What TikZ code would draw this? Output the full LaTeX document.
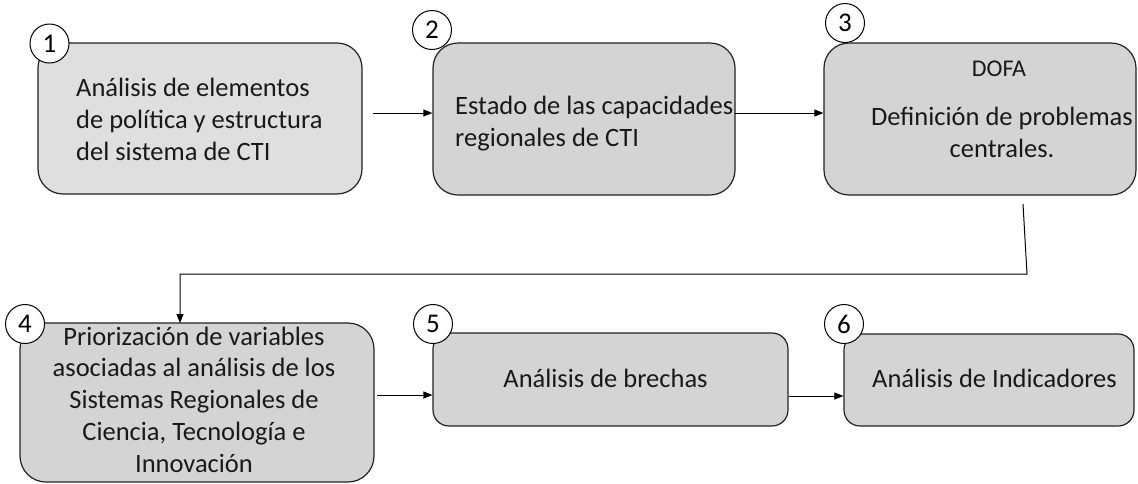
\documentclass[tikz,border=0pt]{standalone}
\usepackage{fontspec}
\setmainfont{Carlito}
\usetikzlibrary{arrows.meta}
\definecolor{boxa}{HTML}{DFDFDF}
\definecolor{boxb}{HTML}{D4D4D4}
\definecolor{edge}{HTML}{222222}
\tikzset{
  stagebox/.style={draw=edge, line width=1.2pt, fill=boxb, inner sep=0pt},
  numc/.style={circle, draw=black, line width=1pt, fill=white, minimum size=39pt, inner sep=0pt, font=\fontsize{27}{27}\selectfont},
  txt/.style={inner sep=0pt, font=\fontsize{26.5}{31.7}\selectfont, text=black!90},
  arr/.style={draw=black, line width=1pt, -{Triangle[length=9pt,width=7pt]}},
}
\begin{document}
\begin{tikzpicture}[x=1pt,y=-1pt]
\useasboundingbox (0,0) rectangle (1138,483);
% boxes
\node[stagebox, fill=boxa, rounded corners=25pt, minimum width=324pt, minimum height=151pt] (b1) at (200,118.5) {};
\node[stagebox, rounded corners=25pt, minimum width=302pt, minimum height=152pt] (b2) at (584,119) {};
\node[stagebox, rounded corners=25pt, minimum width=312pt, minimum height=152pt] (b3) at (980,119) {};
\node[stagebox, rounded corners=26pt, minimum width=354pt, minimum height=159pt] (b4) at (197,402.5) {};
\node[stagebox, rounded corners=16pt, minimum width=355pt, minimum height=93pt] (b5) at (610.5,379.5) {};
\node[stagebox, rounded corners=16pt, minimum width=290pt, minimum height=92pt] (b6) at (989,380) {};
% texts (base = baseline of last line)
\node[txt, anchor=base west, align=left] (t1) at (76,160) {Análisis de elementos\\de política y estructura\\del sistema de CTI};
\node[txt, anchor=base west, align=left] (t2) at (455,146) {Estado de las capacidades\\regionales de CTI};
\node[txt, anchor=base, font=\fontsize{24}{28}\selectfont] (t3a) at (999,76) {DOFA};
\node[txt, anchor=base, align=center] (t3b) at (1002,157) {Definición de problemas\\centrales.};
\node[txt, anchor=base, align=center] (t4) at (194,472) {Priorización de variables\\asociadas al análisis de los\\Sistemas Regionales de\\Ciencia, Tecnología e\\Innovación};
\node[txt, anchor=base] (t5) at (605.5,387) {Análisis de brechas};
\node[txt, anchor=base] (t6) at (994.5,387) {Análisis de Indicadores};
% number circles
\node[numc] (c1) at (49.5,43.5) {1};
\node[numc] (c2) at (432,30) {2};
\node[numc] (c3) at (845,23) {3};
\node[numc] (c4) at (25,324) {4};
\node[numc] (c5) at (433,324) {5};
\node[numc] (c6) at (844,324) {6};
% connectors
\coordinate (s12) at (373,113);
\draw[arr] (s12) -- (b2.west |- s12);
\coordinate (s23) at (735,113);
\draw[arr] (s23) -- (b3.west |- s23);
\coordinate (s34) at (1023,204);
\coordinate (k34) at (1027,274);
\coordinate (e34) at (180,323);
\draw[arr] (s34) -- (k34) -- (e34 |- k34) -- (e34);
\coordinate (s45) at (377,395);
\draw[arr] (s45) -- (b5.west |- s45);
\coordinate (s56) at (b5.east |- 0,396);
\draw[arr] (s56) -- (b6.west |- s56);
\end{tikzpicture}
\end{document}
